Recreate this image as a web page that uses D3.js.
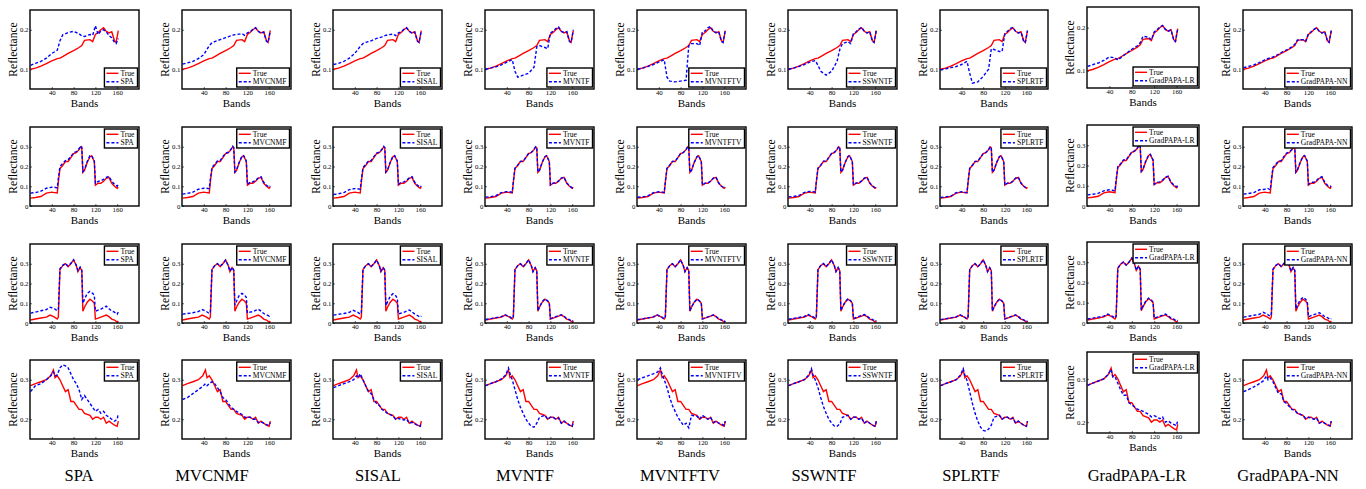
<!DOCTYPE html>
<html>
<head>
<meta charset="utf-8">
<script src="https://cdn.jsdelivr.net/npm/d3@7"></script>
<style>
body { margin: 0; background: #fff; }
text { font-family: "Liberation Serif", "Times New Roman", serif; }
</style>
</head>
<body>
<div id="chart"></div>
<script>
// methods (one column each)
var methods = ["SPA", "MVCNMF", "SISAL", "MVNTF", "MVNTFTV", "SSWNTF", "SPLRTF", "GradPAPA-LR", "GradPAPA-NN"];
var xTicks = [40, 80, 120, 160];

// ---- row 1 ----
var bands1 = [1, 10, 20, 30, 40, 50, 55, 60, 70, 80, 90, 95, 100, 110, 115, 120, 125, 130, 135, 140, 145, 150, 155, 158, 162];
var true1 = [0.100, 0.103, 0.108, 0.114, 0.121, 0.127, 0.128, 0.132, 0.140, 0.147, 0.155, 0.160, 0.173, 0.175, 0.170, 0.188, 0.193, 0.200, 0.205, 0.196, 0.192, 0.195, 0.172, 0.168, 0.198];
var est1 = [
  [0.110, 0.115, 0.120, 0.128, 0.140, 0.148, 0.172, 0.187, 0.193, 0.196, 0.190, 0.184, 0.183, 0.188, 0.186, 0.210, 0.188, 0.197, 0.200, 0.195, 0.185, 0.180, 0.168, 0.165, 0.178],
  [0.113, 0.116, 0.120, 0.127, 0.137, 0.160, 0.167, 0.170, 0.175, 0.180, 0.185, 0.187, 0.188, 0.190, 0.186, 0.192, 0.195, 0.201, 0.205, 0.196, 0.191, 0.194, 0.171, 0.168, 0.198],
  [0.112, 0.115, 0.120, 0.128, 0.140, 0.158, 0.165, 0.168, 0.172, 0.178, 0.182, 0.185, 0.187, 0.189, 0.185, 0.192, 0.195, 0.201, 0.205, 0.196, 0.191, 0.194, 0.171, 0.168, 0.198],
  [0.100, 0.103, 0.106, 0.111, 0.118, 0.124, 0.095, 0.080, 0.085, 0.090, 0.105, 0.157, 0.160, 0.155, 0.152, 0.192, 0.196, 0.203, 0.207, 0.196, 0.193, 0.195, 0.170, 0.168, 0.200],
  [0.100, 0.103, 0.107, 0.112, 0.118, 0.124, 0.080, 0.070, 0.068, 0.070, 0.072, 0.160, 0.165, 0.165, 0.160, 0.195, 0.197, 0.205, 0.208, 0.196, 0.193, 0.195, 0.170, 0.168, 0.200],
  [0.100, 0.103, 0.107, 0.112, 0.118, 0.122, 0.110, 0.095, 0.085, 0.095, 0.120, 0.150, 0.165, 0.170, 0.165, 0.190, 0.195, 0.202, 0.206, 0.196, 0.192, 0.195, 0.170, 0.168, 0.198],
  [0.098, 0.101, 0.104, 0.107, 0.112, 0.120, 0.090, 0.065, 0.068, 0.082, 0.100, 0.152, 0.150, 0.145, 0.145, 0.190, 0.196, 0.203, 0.206, 0.196, 0.192, 0.194, 0.170, 0.168, 0.198],
  [0.110, 0.114, 0.118, 0.124, 0.132, 0.130, 0.125, 0.130, 0.140, 0.150, 0.158, 0.165, 0.180, 0.178, 0.172, 0.190, 0.195, 0.202, 0.205, 0.196, 0.192, 0.195, 0.170, 0.168, 0.198],
  [0.104, 0.107, 0.111, 0.117, 0.124, 0.129, 0.131, 0.134, 0.142, 0.149, 0.157, 0.163, 0.174, 0.175, 0.171, 0.190, 0.195, 0.201, 0.205, 0.196, 0.192, 0.195, 0.171, 0.168, 0.198]
];
var yTicks1 = [0.1, 0.2];

// ---- row 2 ----
var bands2 = [1, 10, 20, 30, 40, 45, 50, 52, 55, 60, 65, 70, 75, 80, 85, 90, 93, 95, 97, 100, 105, 110, 113, 118, 120, 125, 130, 135, 140, 145, 150, 155, 160, 162];
var true2 = [0.040, 0.043, 0.048, 0.065, 0.070, 0.068, 0.066, 0.120, 0.190, 0.205, 0.225, 0.225, 0.245, 0.265, 0.270, 0.285, 0.300, 0.295, 0.170, 0.180, 0.220, 0.250, 0.255, 0.225, 0.105, 0.115, 0.115, 0.125, 0.140, 0.145, 0.115, 0.100, 0.090, 0.095];
var est2 = [
  [0.065, 0.068, 0.075, 0.090, 0.095, 0.095, 0.092, 0.140, 0.200, 0.215, 0.230, 0.235, 0.250, 0.270, 0.275, 0.290, 0.305, 0.298, 0.175, 0.185, 0.225, 0.255, 0.255, 0.230, 0.115, 0.125, 0.128, 0.135, 0.145, 0.150, 0.125, 0.110, 0.100, 0.110],
  [0.060, 0.064, 0.070, 0.085, 0.090, 0.090, 0.088, 0.135, 0.195, 0.210, 0.228, 0.230, 0.250, 0.268, 0.272, 0.288, 0.303, 0.296, 0.172, 0.182, 0.222, 0.252, 0.255, 0.228, 0.110, 0.120, 0.122, 0.130, 0.142, 0.148, 0.120, 0.105, 0.095, 0.102],
  [0.058, 0.062, 0.068, 0.083, 0.088, 0.087, 0.085, 0.132, 0.195, 0.210, 0.228, 0.230, 0.250, 0.268, 0.272, 0.288, 0.302, 0.296, 0.172, 0.182, 0.222, 0.252, 0.255, 0.228, 0.110, 0.120, 0.122, 0.130, 0.142, 0.148, 0.120, 0.105, 0.095, 0.102],
  [0.045, 0.047, 0.052, 0.068, 0.073, 0.072, 0.070, 0.125, 0.192, 0.207, 0.226, 0.227, 0.247, 0.266, 0.272, 0.287, 0.300, 0.295, 0.172, 0.182, 0.222, 0.250, 0.255, 0.226, 0.107, 0.116, 0.117, 0.127, 0.141, 0.146, 0.117, 0.102, 0.092, 0.097],
  [0.044, 0.046, 0.051, 0.067, 0.072, 0.071, 0.069, 0.124, 0.191, 0.206, 0.226, 0.226, 0.246, 0.266, 0.271, 0.286, 0.300, 0.295, 0.171, 0.181, 0.221, 0.250, 0.255, 0.226, 0.106, 0.116, 0.116, 0.126, 0.141, 0.146, 0.116, 0.101, 0.091, 0.096],
  [0.046, 0.048, 0.053, 0.069, 0.074, 0.073, 0.071, 0.126, 0.192, 0.207, 0.227, 0.227, 0.247, 0.267, 0.272, 0.287, 0.301, 0.296, 0.172, 0.182, 0.222, 0.251, 0.255, 0.226, 0.107, 0.117, 0.117, 0.127, 0.141, 0.146, 0.117, 0.102, 0.092, 0.097],
  [0.043, 0.046, 0.050, 0.067, 0.072, 0.070, 0.068, 0.123, 0.191, 0.206, 0.226, 0.226, 0.246, 0.266, 0.271, 0.286, 0.300, 0.295, 0.171, 0.181, 0.221, 0.250, 0.255, 0.226, 0.106, 0.116, 0.116, 0.126, 0.141, 0.146, 0.116, 0.101, 0.091, 0.096],
  [0.055, 0.058, 0.062, 0.075, 0.080, 0.078, 0.075, 0.128, 0.195, 0.208, 0.227, 0.228, 0.248, 0.267, 0.272, 0.287, 0.302, 0.296, 0.172, 0.183, 0.222, 0.251, 0.255, 0.227, 0.108, 0.118, 0.119, 0.128, 0.142, 0.147, 0.118, 0.104, 0.095, 0.100],
  [0.060, 0.063, 0.068, 0.082, 0.085, 0.090, 0.082, 0.130, 0.195, 0.210, 0.228, 0.230, 0.250, 0.268, 0.273, 0.288, 0.302, 0.296, 0.172, 0.185, 0.222, 0.252, 0.255, 0.228, 0.110, 0.120, 0.120, 0.130, 0.142, 0.148, 0.120, 0.105, 0.098, 0.102]
];
var yTicks2 = [0, 0.1, 0.2, 0.3];

// ---- row 3 ----
var bands3 = [1, 10, 20, 30, 37, 45, 50, 52, 55, 60, 65, 70, 75, 80, 85, 88, 92, 95, 97, 100, 105, 110, 115, 118, 120, 125, 130, 140, 145, 150, 155, 160, 162];
var true3 = [0.015, 0.020, 0.025, 0.030, 0.040, 0.030, 0.020, 0.030, 0.270, 0.290, 0.300, 0.285, 0.300, 0.320, 0.290, 0.260, 0.280, 0.265, 0.060, 0.080, 0.105, 0.120, 0.110, 0.100, 0.020, 0.025, 0.030, 0.040, 0.032, 0.020, 0.015, 0.005, 0.010];
var est3 = [
  [0.050, 0.055, 0.062, 0.068, 0.080, 0.072, 0.062, 0.070, 0.275, 0.292, 0.302, 0.288, 0.302, 0.320, 0.292, 0.265, 0.283, 0.270, 0.100, 0.120, 0.150, 0.160, 0.150, 0.140, 0.060, 0.065, 0.070, 0.085, 0.072, 0.060, 0.055, 0.045, 0.055],
  [0.045, 0.048, 0.052, 0.058, 0.068, 0.058, 0.048, 0.055, 0.272, 0.290, 0.300, 0.288, 0.300, 0.318, 0.290, 0.263, 0.282, 0.268, 0.090, 0.110, 0.140, 0.150, 0.140, 0.130, 0.050, 0.055, 0.058, 0.070, 0.060, 0.048, 0.042, 0.035, 0.040],
  [0.040, 0.044, 0.048, 0.054, 0.064, 0.055, 0.045, 0.052, 0.272, 0.290, 0.300, 0.287, 0.300, 0.318, 0.290, 0.262, 0.281, 0.267, 0.088, 0.106, 0.135, 0.148, 0.138, 0.126, 0.046, 0.050, 0.054, 0.066, 0.056, 0.045, 0.038, 0.030, 0.035],
  [0.018, 0.022, 0.027, 0.032, 0.042, 0.032, 0.022, 0.032, 0.270, 0.290, 0.300, 0.285, 0.300, 0.320, 0.290, 0.260, 0.280, 0.265, 0.062, 0.082, 0.108, 0.122, 0.112, 0.102, 0.022, 0.027, 0.032, 0.042, 0.034, 0.022, 0.017, 0.008, 0.012],
  [0.017, 0.021, 0.026, 0.031, 0.041, 0.031, 0.021, 0.031, 0.270, 0.290, 0.300, 0.285, 0.300, 0.320, 0.290, 0.260, 0.280, 0.265, 0.061, 0.081, 0.106, 0.121, 0.111, 0.101, 0.021, 0.026, 0.031, 0.041, 0.033, 0.021, 0.016, 0.007, 0.011],
  [0.019, 0.023, 0.028, 0.033, 0.043, 0.033, 0.023, 0.033, 0.271, 0.291, 0.301, 0.286, 0.301, 0.320, 0.291, 0.261, 0.281, 0.266, 0.063, 0.083, 0.108, 0.123, 0.113, 0.103, 0.023, 0.028, 0.033, 0.043, 0.035, 0.023, 0.018, 0.009, 0.013],
  [0.017, 0.021, 0.026, 0.031, 0.041, 0.031, 0.021, 0.031, 0.270, 0.290, 0.300, 0.285, 0.300, 0.320, 0.290, 0.260, 0.280, 0.265, 0.061, 0.081, 0.106, 0.121, 0.111, 0.101, 0.021, 0.026, 0.031, 0.041, 0.033, 0.021, 0.016, 0.007, 0.011],
  [0.020, 0.024, 0.029, 0.034, 0.044, 0.034, 0.024, 0.034, 0.271, 0.291, 0.301, 0.286, 0.301, 0.320, 0.291, 0.261, 0.281, 0.266, 0.064, 0.084, 0.108, 0.123, 0.113, 0.103, 0.024, 0.029, 0.034, 0.044, 0.036, 0.024, 0.019, 0.010, 0.014],
  [0.030, 0.034, 0.039, 0.044, 0.054, 0.044, 0.034, 0.044, 0.272, 0.291, 0.301, 0.287, 0.301, 0.320, 0.291, 0.262, 0.281, 0.267, 0.072, 0.092, 0.116, 0.130, 0.120, 0.110, 0.032, 0.037, 0.042, 0.052, 0.044, 0.032, 0.027, 0.018, 0.022]
];
var yTicks3 = [0, 0.1, 0.2, 0.3];

// ---- row 4 ----
var bands4 = [1, 10, 20, 30, 38, 43, 46, 50, 55, 60, 65, 70, 75, 80, 85, 90, 95, 100, 110, 115, 120, 125, 130, 135, 140, 145, 150, 155, 160, 162];
var true4 = [0.285, 0.290, 0.295, 0.300, 0.310, 0.325, 0.305, 0.310, 0.300, 0.285, 0.270, 0.275, 0.245, 0.245, 0.235, 0.225, 0.225, 0.215, 0.210, 0.200, 0.205, 0.205, 0.200, 0.205, 0.190, 0.195, 0.190, 0.185, 0.182, 0.195];
var est4 = [
  [0.270, 0.285, 0.290, 0.300, 0.310, 0.320, 0.310, 0.312, 0.330, 0.338, 0.335, 0.330, 0.315, 0.300, 0.290, 0.275, 0.250, 0.260, 0.240, 0.230, 0.220, 0.225, 0.215, 0.220, 0.210, 0.205, 0.200, 0.195, 0.200, 0.215],
  [0.250, 0.255, 0.265, 0.275, 0.283, 0.290, 0.285, 0.290, 0.295, 0.290, 0.280, 0.270, 0.255, 0.250, 0.240, 0.230, 0.225, 0.220, 0.212, 0.205, 0.205, 0.205, 0.200, 0.200, 0.192, 0.193, 0.190, 0.186, 0.185, 0.192],
  [0.280, 0.285, 0.290, 0.295, 0.300, 0.310, 0.305, 0.315, 0.300, 0.285, 0.270, 0.265, 0.250, 0.240, 0.235, 0.225, 0.220, 0.215, 0.208, 0.200, 0.202, 0.200, 0.198, 0.200, 0.190, 0.192, 0.188, 0.185, 0.182, 0.192],
  [0.285, 0.290, 0.295, 0.302, 0.312, 0.330, 0.315, 0.300, 0.275, 0.250, 0.230, 0.215, 0.200, 0.190, 0.182, 0.180, 0.190, 0.205, 0.210, 0.200, 0.205, 0.205, 0.200, 0.203, 0.190, 0.195, 0.190, 0.185, 0.182, 0.195],
  [0.300, 0.305, 0.310, 0.315, 0.320, 0.330, 0.315, 0.300, 0.280, 0.255, 0.235, 0.220, 0.205, 0.195, 0.185, 0.190, 0.178, 0.210, 0.208, 0.200, 0.210, 0.205, 0.200, 0.205, 0.192, 0.195, 0.190, 0.188, 0.185, 0.195],
  [0.285, 0.290, 0.295, 0.300, 0.312, 0.328, 0.312, 0.300, 0.280, 0.255, 0.232, 0.215, 0.200, 0.190, 0.183, 0.182, 0.188, 0.205, 0.210, 0.200, 0.205, 0.205, 0.200, 0.203, 0.190, 0.195, 0.190, 0.185, 0.182, 0.195],
  [0.285, 0.290, 0.295, 0.300, 0.312, 0.328, 0.312, 0.298, 0.270, 0.240, 0.215, 0.195, 0.180, 0.172, 0.170, 0.175, 0.185, 0.205, 0.210, 0.200, 0.205, 0.205, 0.200, 0.203, 0.190, 0.195, 0.190, 0.185, 0.182, 0.195],
  [0.285, 0.290, 0.295, 0.300, 0.310, 0.322, 0.305, 0.305, 0.290, 0.275, 0.262, 0.262, 0.245, 0.240, 0.235, 0.230, 0.228, 0.225, 0.218, 0.212, 0.215, 0.212, 0.208, 0.212, 0.200, 0.203, 0.198, 0.195, 0.192, 0.205],
  [0.270, 0.275, 0.282, 0.290, 0.298, 0.310, 0.300, 0.305, 0.295, 0.280, 0.265, 0.265, 0.245, 0.240, 0.232, 0.225, 0.222, 0.215, 0.210, 0.202, 0.205, 0.203, 0.200, 0.203, 0.190, 0.193, 0.190, 0.186, 0.184, 0.195]
];
var yTicks4 = [0.2, 0.3];

var rows = [
  {bands: bands1, truth: true1, est: est1, ticks: yTicks1, dom: [0.05, 0.25], legTop: false},
  {bands: bands2, truth: true2, est: est2, ticks: yTicks2, dom: [0, 0.4], legTop: true},
  {bands: bands3, truth: true3, est: est3, ticks: yTicks3, dom: [0, 0.4], legTop: true},
  {bands: bands4, truth: true4, est: est4, ticks: yTicks4, dom: [0.15, 0.35], legTop: true}
];

// layout
var colX = [30, 182, 333, 485, 637, 788, 940, 1087, 1243];
var colW = [109, 109, 109, 109, 109, 109, 108, 112, 109];
var rowY = [10, 127, 244, 360];
var boxH = 79;
var labelX = [79, 212, 378, 525, 680, 824, 971, 1137, 1288];
// GradPAPA-LR panels sit a little higher and use their own y range
var lrBox = [{y: 7, h: 81, dom: [0.06, 0.248]}, {y: 125, h: 81, dom: [0, 0.4]},
             {y: 242, h: 81, dom: [0, 0.4]}, {y: 352, h: 81, dom: [0.175, 0.362]}];

var svg = d3.select("#chart").append("svg")
    .attr("width", 1366)
    .attr("height", 489);

var fmt = function (d) { return d === 0 ? "0" : d3.format(".1f")(d); };

rows.forEach(function (r, ri) {
  methods.forEach(function (m, ci) {
    var x0 = colX[ci], y0 = rowY[ri], w = colW[ci], h = boxH, dom = r.dom;
    if (ci === 7) { y0 = lrBox[ri].y; h = lrBox[ri].h; dom = lrBox[ri].dom; }
    var x = d3.scaleLinear().domain([0, 200]).range([x0, x0 + w]);
    var y = d3.scaleLinear().domain(dom).range([y0 + h, y0]);
    var g = svg.append("g");

    // axes
    var ax = g.append("g")
        .attr("transform", "translate(0," + (y0 + h) + ")")
        .call(d3.axisBottom(x).tickValues(xTicks).tickSize(-2).tickPadding(1));
    var ay = g.append("g")
        .attr("transform", "translate(" + x0 + ",0)")
        .call(d3.axisLeft(y).tickValues(r.ticks).tickFormat(fmt).tickSize(-2).tickPadding(1.5));
    [ax, ay].forEach(function (a) {
      a.select(".domain").remove();
      a.selectAll("text").style("font-family", "Liberation Serif").style("font-size", "6.8px").attr("fill", "#000");
      a.selectAll("line").attr("stroke", "#000").attr("stroke-width", 0.6);
    });

    var line = d3.line()
        .x(function (d, i) { return x(r.bands[i]); })
        .y(function (d) { return y(d); });

    g.append("path").datum(r.truth)
        .attr("d", line).attr("fill", "none")
        .attr("stroke", "#ff0000").attr("stroke-width", 1.4);
    g.append("path").datum(r.est[ci])
        .attr("d", line).attr("fill", "none")
        .attr("stroke", "#0000ff").attr("stroke-width", 1.4)
        .attr("stroke-dasharray", "3,2");

    g.append("rect")
        .attr("x", x0).attr("y", y0).attr("width", w).attr("height", h)
        .attr("fill", "none").attr("stroke", "#000").attr("stroke-width", 1.4);

    // axis titles
    g.append("text")
        .attr("transform", "translate(" + (x0 - 17) + "," + (y0 + h / 2) + ") rotate(-90)")
        .attr("text-anchor", "middle")
        .attr("dy", "0.35em")
        .style("font-size", "11.5px")
        .text("Reflectance");
    g.append("text")
        .attr("x", x0 + w / 2).attr("y", y0 + h + 18)
        .attr("text-anchor", "middle")
        .style("font-size", "11px")
        .text("Bands");

    // legend
    var leg = g.append("g");
    var t1 = leg.append("text").attr("x", 0).attr("y", 0).style("font-size", "7.6px").text("True");
    var t2 = leg.append("text").attr("x", 0).attr("y", 0).style("font-size", "7.6px").text(m);
    var tw = Math.max(t1.node().getComputedTextLength(), t2.node().getComputedTextLength());
    var lw = tw + 19, lh = 19;
    var lx = x0 + w - lw - 1.5;
    var ly = r.legTop ? y0 + 2 : y0 + h - lh - 2;
    leg.insert("rect", "text")
        .attr("x", lx).attr("y", ly).attr("width", lw).attr("height", lh)
        .attr("fill", "#fff").attr("stroke", "#000").attr("stroke-width", 1.4);
    t1.attr("x", lx + 16).attr("y", ly + 7.8);
    t2.attr("x", lx + 16).attr("y", ly + 16.2);
    leg.append("line").attr("x1", lx + 2).attr("x2", lx + 14).attr("y1", ly + 5.3).attr("y2", ly + 5.3)
        .attr("stroke", "#ff0000").attr("stroke-width", 1.4);
    leg.append("line").attr("x1", lx + 2).attr("x2", lx + 14).attr("y1", ly + 13.7).attr("y2", ly + 13.7)
        .attr("stroke", "#0000ff").attr("stroke-width", 1.4).attr("stroke-dasharray", "3,2");
  });
});

// method names under each column
svg.selectAll(".mname").data(methods).enter().append("text")
    .attr("class", "mname")
    .attr("x", function (d, i) { return labelX[i]; })
    .attr("y", 481)
    .attr("text-anchor", "middle")
    .style("font-size", "16.5px")
    .text(function (d) { return d; });
</script>
</body>
</html>
